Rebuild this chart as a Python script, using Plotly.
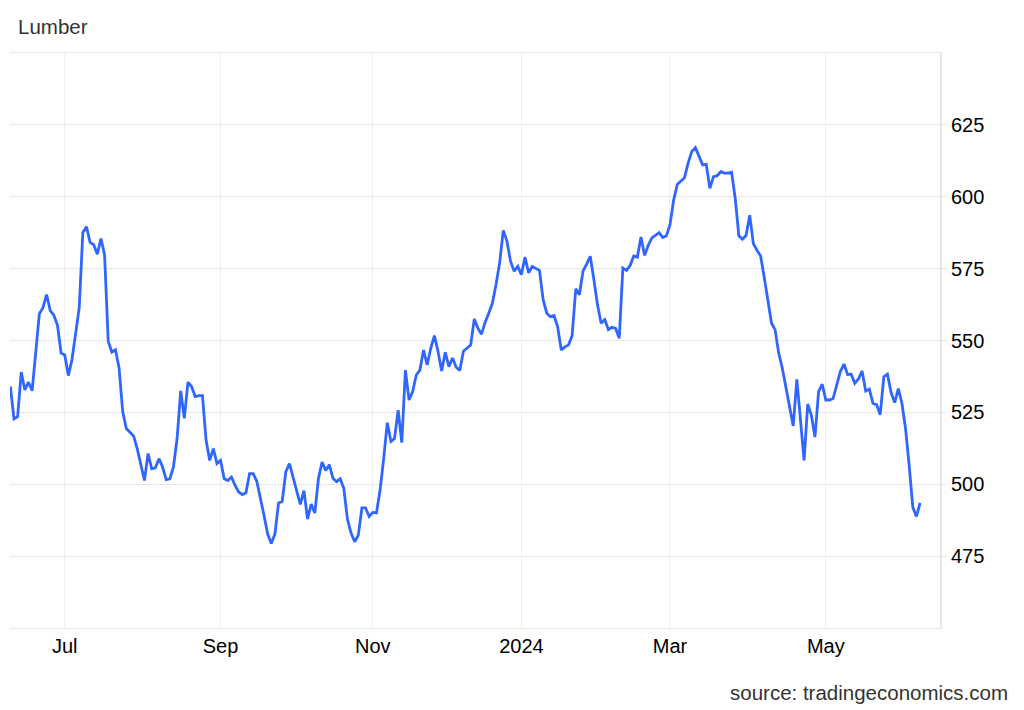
import pandas as pd
import plotly.graph_objects as go

# ---- data (daily settlement, trading days) ----
start_date = "2023-06-09"
holidays = ["2023-06-19", "2023-07-04", "2023-09-04", "2023-11-23", "2023-12-25",
            "2024-01-01", "2024-01-15", "2024-02-19", "2024-05-27"]

jun_2023 = [534, 522.7, 523.5, 539, 532.8, 535.5, 532.5, 546, 559.3, 561.4, 566, 560.4, 558.8, 555.3, 545.6]
jul_2023 = [545, 537.8, 543.3, 553.2, 561.4, 587.6, 589.6, 584.1, 583.3, 580, 585.5, 579.8, 549.7, 546,
            546.8, 540.4, 525.2, 519.4, 518, 516.8]
aug_2023 = [512.4, 506.6, 501.3, 510.7, 505.4, 505.7, 508.9, 506, 501.6, 501.9, 506, 515.9, 532.5, 522.9,
            535.5, 534, 530.5, 530.8, 530.8, 515.3, 508.3, 512.4, 507.2]
sep_2023 = [508.3, 501.9, 501.3, 502.5, 499.6, 497.3, 496.4, 497, 503.7, 503.7, 501, 495.5, 489.1, 482.7,
            479.4, 482.7, 493.5, 494, 504.3, 507.2]
oct_2023 = [502.5, 497.8, 493, 497.8, 487.9, 493.1, 490, 501.9, 507.7, 504.8, 506.8, 502.1, 500.9, 501.9,
            498.6, 487.9, 483, 480, 482.3, 491.8, 491.8, 488.8]
nov_2023 = [490.2, 490, 497.8, 508.9, 521.4, 514.9, 515.9, 525.8, 514.5, 539.7, 529.3, 532.2, 538, 539.7,
            546.7, 541.5, 547.3, 551.7, 546.2, 539.4, 545.9]
dec_2023 = [540.9, 543.9, 540.7, 539.6, 546.3, 547.5, 548.4, 557.5, 554.3, 552.2, 556.4, 559.5, 563, 569.4,
            577, 588.3, 584.6, 577.6, 574.1, 575.8]
jan_2024 = [572.9, 579, 573.5, 575.8, 575, 574.3, 564.2, 559.5, 558.3, 558.7, 554.8, 546.7, 547.8, 548.4,
            551.7, 568, 565.9, 574.1, 576.6, 579.3, 571.2]
feb_2024 = [562.4, 556, 557.3, 553.8, 554.6, 554.2, 550.8, 575.2, 574.4, 576.1, 579.4, 579, 586, 579.6,
            583.1, 585.7, 586.6, 587.5, 585.8, 586.4]
mar_2024 = [590.3, 598.8, 604.3, 605.5, 606.6, 611.7, 615.7, 617.1, 614, 611.1, 611.3, 602.9, 607, 607.3,
            608.7, 608.2, 608.2, 608.5, 599.4, 586.4, 585.2]
apr_2024 = [586.6, 593.6, 583.7, 581.4, 579.4, 572, 564.2, 556.1, 553.7, 545.6, 540.3, 533.3, 526.3, 520.3,
            536.5, 521.7, 508.3, 527.9, 524, 516.4, 532.2, 534.8]
may_2024 = [529.3, 529.3, 529.8, 534.5, 539.2, 541.8, 538.2, 538.3, 535.1, 536.6, 539.4, 532.4, 533.1, 528.1,
            527.7, 524.2, 537.4, 538.3, 531.9, 528.4, 533.3, 528.1]
jun_2024 = [519.3, 506.5, 492, 488.8, 493.5]

tick_dates = ["2023-07-03", "2023-09-01", "2023-11-01", "2024-01-02", "2024-03-01", "2024-05-01"]
tick_labels = ["Jul", "Sep", "Nov", "2024", "Mar", "May"]
y_ticks = [475, 500, 525, 550, 575, 600, 625]

prices = (jun_2023 + jul_2023 + aug_2023 + sep_2023 + oct_2023 + nov_2023 + dec_2023 +
          jan_2024 + feb_2024 + mar_2024 + apr_2024 + may_2024 + jun_2024)
dates = pd.bdate_range(start=start_date, periods=len(prices), freq="C",
                       holidays=holidays).strftime("%Y-%m-%d").tolist()

FONT = "Liberation Sans, Arial, Helvetica, sans-serif"
W, H = 1008, 702  # page body has an 8px margin

fig = go.Figure()
fig.add_trace(go.Scatter(
    x=dates, y=prices, mode="lines",
    line=dict(color="#2f66ff", width=2.8),
    hoverinfo="x+y", showlegend=False,
))

fig.update_layout(
    width=W, height=H,
    margin=dict(l=2, r=76, t=45, b=82),
    paper_bgcolor="white", plot_bgcolor="white",
    font=dict(family=FONT, size=20, color="#000"),
    title=dict(text="Lumber", font=dict(family=FONT, size=20.5, color="#333"),
               xref="container", x=10 / W, xanchor="left",
               yref="container", y=1 - 19 / H, yanchor="middle"),
)

fig.update_xaxes(
    type="category",
    range=[-0.1, 256.5],
    tickvals=tick_dates, ticktext=tick_labels,
    showgrid=True, gridcolor="#edf1f4", gridwidth=1,
    showline=True, mirror=True, linecolor="#e6e6e6", linewidth=1,
    ticks="", tickfont=dict(family=FONT, size=20, color="#000"),
)

fig.update_yaxes(
    side="right",
    range=[450, 650],
    tickvals=y_ticks,
    showgrid=True, gridcolor="#e6e6e6", gridwidth=1,
    showline=True, linecolor="#e6e6e6", linewidth=2,
    ticks="outside", ticklen=5, tickcolor="#e6e6e6",
    zeroline=False,
    tickfont=dict(family=FONT, size=20, color="#000"),
)

fig.add_annotation(
    text="source: tradingeconomics.com",
    xref="paper", yref="paper",
    x=(1010 - 10) / 930, y=(628 - 692) / 575,
    xanchor="right", yanchor="middle",
    showarrow=False,
    font=dict(family=FONT, size=20.5, color="#333"),
)

fig.write_html("out.html")
